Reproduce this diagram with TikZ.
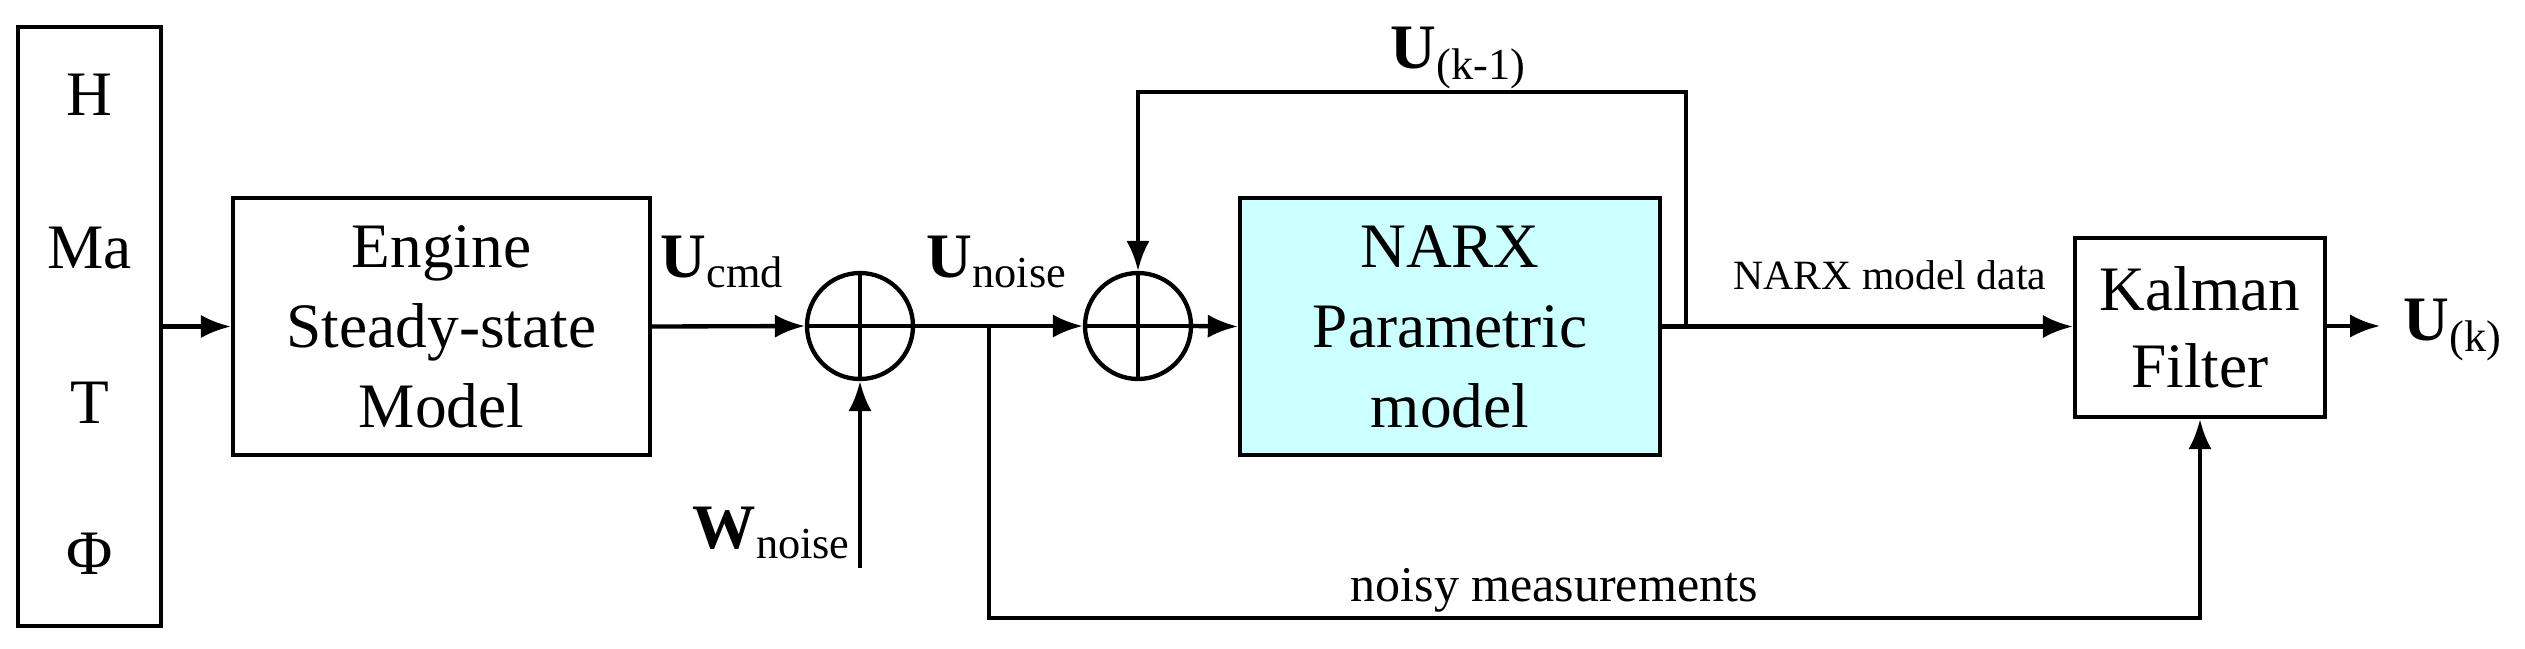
\documentclass[tikz,border=0pt]{standalone}
\usepackage{fontspec}
\setmainfont{Liberation Serif}
\newfontfamily\tms{Liberation Serif}
\usetikzlibrary{arrows.meta}
\newcommand{\lsub}[1]{\textsubscript{\normalfont\tms #1}}
\begin{document}
\begin{tikzpicture}[x=0.3pt,y=-0.3pt,
  box/.style={draw,line width=1.3pt,inner sep=0pt,font=\tms\fontsize{19}{23}\selectfont,align=center},
  sum/.style={draw,line width=1.3pt,circle,minimum size=106*0.3pt,inner sep=0pt},
  lab/.style={font=\tms\fontsize{19}{23}\selectfont\bfseries,inner sep=0pt},
  arr/.style={line width=1.3pt,-{Latex[length=9pt,width=7pt]}},
  ln/.style={line width=1pt}]
\useasboundingbox (0,0) rectangle (2525,648);
\node[box,minimum width=143*0.3pt,minimum height=599*0.3pt] (inp) at (89.5,326.5) {};
\node[font=\tms\fontsize{19}{23}\selectfont] (h) at (89.5,95) {H};
\node[font=\tms\fontsize{19}{23}\selectfont] (ma) at (89.5,248) {Ma};
\node[font=\tms\fontsize{19}{23}\selectfont] (t) at (89.5,403) {T};
\node[font=\tms\fontsize{19}{23}\selectfont] (phi) at (89.5,554) {Φ};
\node[box,minimum width=417*0.3pt,minimum height=257*0.3pt,text width=400*0.3pt] (eng) at (441.5,326.5) {Engine\\[1pt]Steady-state\\[1pt]Model};
\node[sum] (s1) at (860,326) {};
\draw[ln] (s1.north) -- (s1.south) (s1.west) -- (s1.east);
\node[sum] (s2) at (1138,326) {};
\draw[ln] (s2.north) -- (s2.south) (s2.west) -- (s2.east);
\node[box,fill={rgb,255:red,204;green,255;blue,255},minimum width=420*0.3pt,minimum height=257*0.3pt,text width=400*0.3pt] (narx) at (1450,326.5) {NARX\\[1pt]Parametric\\[1pt]model};
\node[box,minimum width=250*0.3pt,minimum height=179*0.3pt] (kal) at (2200,327.5) {Kalman\\Filter};
\coordinate (br) at (989,326);
\coordinate (fb) at (1686,326);
\coordinate (wn) at (860,568);
\coordinate (out) at (2380,326);
\draw[arr] (inp.east|-eng) -- (eng.west);
\draw[arr] (eng.east) -- (s1.west);
\draw[arr] (wn) -- (s1.south);
\draw[arr] (s1.east) -- (s2.west);
\draw[arr] (s2.east) -- (narx.west);
\draw[arr] (narx.east) -- (kal.west|-narx.east);
\draw[arr] (kal.east|-out) -- (out);
\draw[arr] (fb) |- (1138,92) -- (s2.north);
\draw[arr] (br) |- (2200,618) -- (kal.south);
\node[lab,anchor=west] (uc) at (660,262) {U\lsub{cmd}};
\node[lab,anchor=west] (un) at (926,262) {U\lsub{noise}};
\node[lab,anchor=west] (wl) at (692,533) {W\lsub{noise}};
\node[lab,anchor=west] (uk1) at (1390,58) {U\lsub{(k-1)}};
\node[lab,anchor=west] (uk) at (2403,330) {U\lsub{(k)}};
\node[font=\tms\fontsize{12.5}{15}\selectfont,anchor=west,inner sep=0pt] (nd) at (1733,275) {NARX model data};
\node[font=\tms\fontsize{15}{18}\selectfont,anchor=west,inner sep=0pt] (nm) at (1350,590) {noisy measurements};
\end{tikzpicture}
\end{document}
